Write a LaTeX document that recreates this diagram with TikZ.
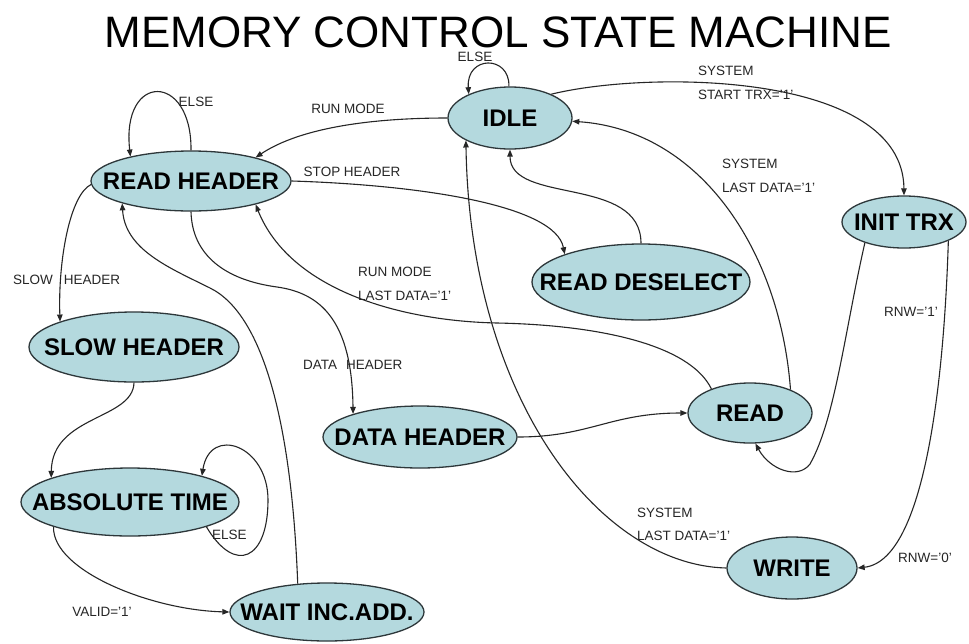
\documentclass[tikz,border=0pt]{standalone}
\usepackage{fontspec}
\setmainfont{Liberation Sans}
\usetikzlibrary{shapes.geometric,arrows.meta}
\definecolor{stfill}{RGB}{180,217,222}
\definecolor{stline}{RGB}{45,55,58}
\newcommand\statelabel[1]{\makebox[0pt]{#1}}
\begin{document}
\begin{tikzpicture}[x=1pt,y=-1pt,
  st/.style={ellipse, draw=stline, line width=1.3pt, fill=stfill, inner sep=0pt,
             font=\fontsize{24}{24}\selectfont\bfseries},
  tr/.style={draw=black!85, line width=1.1pt, -{Triangle[length=7pt,width=5.5pt]}},
  lab/.style={font=\fontsize{13.5}{14}\selectfont, inner sep=0pt, text=black!85},
  labw/.style={lab, anchor=west},
]
\fill[white] (0,0) rectangle (969,643);
\useasboundingbox (0,0) rectangle (969,643);

% title
\node[font=\fontsize{44}{44}\selectfont, inner sep=0pt] (title) at (498,32) {MEMORY CONTROL STATE MACHINE};

% states
\node[st, minimum width=124pt, minimum height=62pt] (idle)  at (510,118) {\statelabel{IDLE}};
\node[st, minimum width=200pt, minimum height=60pt] (rh)    at (191,181) {\statelabel{READ HEADER}};
\node[st, minimum width=124pt, minimum height=52pt] (init)  at (904,222) {\statelabel{INIT TRX}};
\node[st, minimum width=218pt, minimum height=76pt] (rd)    at (641,282) {\statelabel{READ DESELECT}};
\node[st, minimum width=210pt, minimum height=70pt] (sh)    at (134,347) {\statelabel{SLOW HEADER}};
\node[st, minimum width=194pt, minimum height=62pt] (dh)    at (420,437) {\statelabel{DATA HEADER}};
\node[st, minimum width=124pt, minimum height=60pt] (read)  at (750,413) {\statelabel{READ}};
\node[st, minimum width=218pt, minimum height=68pt] (abs)   at (130,502) {\statelabel{ABSOLUTE TIME}};
\node[st, minimum width=194pt, minimum height=58pt] (wait)  at (327,612) {\statelabel{WAIT INC.ADD.}};
\node[st, minimum width=130pt, minimum height=62pt] (write) at (792,568) {\statelabel{WRITE}};

% via points of the longer transitions
\coordinate (vRead) at (497,323);
\coordinate (vAbs)  at (268,500);
\coordinate (vWait) at (210,288);
\coordinate (vData) at (277,287);
\coordinate (vInit) at (810,464);

% transitions
\draw[tr] (idle.92) .. controls (510,55) and (466,55) .. (idle.150);
\draw[tr] (idle.180) .. controls (370,118) and (300,128) .. (rh.20);
\draw[tr] (rh.90) .. controls (192,72) and (121,72) .. (rh.158);
\draw[tr] (rh.0) .. controls (420,185) and (555,205) .. (rd.160);
\draw[tr] (rd.90) .. controls (641,175) and (510,205) .. (idle.270);
\draw[tr] (idle.30) .. controls (650,70) and (903,72) .. (init.90);
\draw[tr] (read.30) .. controls (780,250) and (700,130) .. (idle.357);
\draw[tr] (read.148) .. controls (690,345) and (600,325) .. (vRead)
          .. controls (400,321) and (290,290) .. (rh.340);
\draw[tr] (rh.182) .. controls (70,195) and (58,260) .. (sh.161);
\draw[tr] (sh.270) .. controls (133,420) and (52,415) .. (abs.163);
\draw[tr] (abs.342) .. controls (235,575) and (268,560) .. (vAbs)
          .. controls (268,445) and (210,425) .. (abs.20);
\draw[tr] (abs.198) .. controls (52,570) and (150,610) .. (wait.180);
\draw[tr] (wait.136) .. controls (292,430) and (265,315) .. (vWait)
          .. controls (170,268) and (125,250) .. (rh.198);
\draw[tr] (rh.270) .. controls (192,255) and (225,280) .. (vData)
          .. controls (320,293) and (352,320) .. (dh.161);
\draw[tr] (dh.0) .. controls (590,437) and (610,413) .. (read.180);
\draw[tr] (init.208) .. controls (845,330) and (835,420) .. (vInit)
          .. controls (798,480) and (770,470) .. (read.280);
\draw[tr] (init.337) .. controls (945,350) and (930,560) .. (write.0);
\draw[tr] (write.180) .. controls (600,565) and (470,400) .. (idle.207);

% transition labels
\node[lab]  (lElseIdle) at (475,57)  {ELSE};
\node[lab]  (lRun)      at (348,109) {RUN MODE};
\node[lab]  (lElseRh)   at (196,102) {ELSE};
\node[lab]  (lStop)     at (352,172) {STOP HEADER};
\node[labw] (lSys1)     at (698,71)  {SYSTEM};
\node[labw] (lStart)    at (698,95)  {START TRX='1'};
\node[labw] (lSys2)     at (722,164) {SYSTEM};
\node[labw] (lLast2)    at (722,188) {LAST DATA='1'};
\node[labw] (lRun2)     at (358,272) {RUN MODE};
\node[labw] (lLast3)    at (358,296) {LAST DATA='1'};
\node[labw] (lSlow)     at (13,280)  {SLOW\hspace{11pt}HEADER};
\node[labw] (lData)     at (303,365) {DATA\hspace{9pt}HEADER};
\node[lab]  (lRnw1)     at (911,312) {RNW='1'};
\node[labw] (lElseAbs)  at (212,535) {ELSE};
\node[lab]  (lValid)    at (102,612) {VALID='1'};
\node[labw] (lSys3)     at (637,513) {SYSTEM};
\node[labw] (lLast4)    at (637,536) {LAST DATA='1'};
\node[lab]  (lRnw0)     at (925,558) {RNW='0'};
\end{tikzpicture}
\end{document}
